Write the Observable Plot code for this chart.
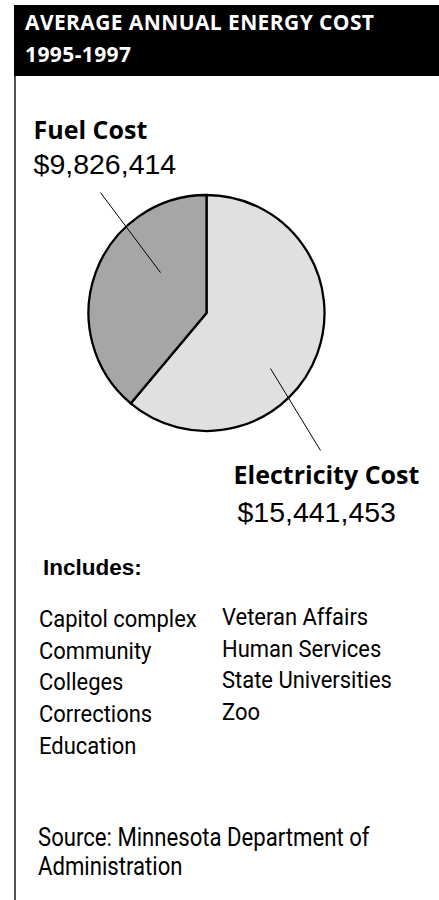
<!DOCTYPE html>
<html>
<head>
<meta charset="utf-8">
<script src="https://cdn.jsdelivr.net/npm/d3@7"></script>
<script src="https://cdn.jsdelivr.net/npm/@observablehq/plot@0.6"></script>
<style>
  html, body { margin: 0; padding: 0; background: #fff; }
  body { width: 439px; height: 900px; position: relative; overflow: hidden; }
  #header { position: absolute; left: 14px; top: 5px; width: 425px; height: 71px; background: #000; }
  #title { position: absolute; left: 11px; top: 1px; font-family: "Open Sans", sans-serif; font-weight: 700; font-size: 21px; line-height: 32px; color: #fff; letter-spacing: 0.4px; white-space: nowrap; }
  #rule { position: absolute; left: 14px; top: 76px; width: 2px; height: 824px; background: #555; }
  #chart { position: absolute; left: 0; top: 76px; }
  .cond { position: absolute; font-family: Roboto, sans-serif; font-size: 24px; line-height: 31.7px; color: #000; transform: scaleX(0.915); transform-origin: 0 0; white-space: nowrap; }
  #includes { position: absolute; left: 43px; top: 557px; font-family: "Liberation Sans", Arial, sans-serif; font-weight: 700; font-size: 22.5px; line-height: 22px; }
</style>
</head>
<body>
<div id="header"><div id="title"></div></div>
<div id="rule"></div>
<div id="chart"></div>
<div id="includes"></div>
<div id="listA" class="cond" style="left:39px; top:604px;"></div>
<div id="listB" class="cond" style="left:222px; top:602px;"></div>
<div id="source" class="cond" style="left:38px; top:823px; line-height:29px; font-size:25px; transform: scaleX(0.885);"></div>
<script>
// ---- data ----
const titleLines = ["AVERAGE ANNUAL ENERGY COST", "1995-1997"];
const categories = ["Fuel Cost", "Electricity Cost"];
const costs = [9826414, 15441453];
const costLabels = ["$9,826,414", "$15,441,453"];
const sliceColors = ["#a6a6a6", "#e0e0e0"];
const includesLabel = "Includes:";
const agenciesLeft = ["Capitol complex", "Community", "Colleges", "Corrections", "Education"];
const agenciesRight = ["Veteran Affairs", "Human Services", "State Universities", "Zoo"];
const sourceLines = ["Source: Minnesota Department of", "Administration"];

// ---- text blocks ----
document.getElementById("title").innerHTML = titleLines.join("<br>");
document.getElementById("includes").textContent = includesLabel;
document.getElementById("listA").innerHTML = agenciesLeft.join("<br>");
document.getElementById("listB").innerHTML = agenciesRight.join("<br>");
document.getElementById("source").innerHTML = sourceLines.join("<br>");

// ---- layout (pie radius units) ----
const W = 439, H = 470, R = 118, CX = 206.5, CY = 237;
const xDomain = [-CX / R, (W - CX) / R];
const yDomain = [-CY / R, (H - CY) / R];

const slices = categories.map((c, i) => ({category: c, value: costs[i], label: costLabels[i], color: sliceColors[i]}));
// drawn clockwise from 12 o'clock: electricity first, fuel closes the circle
const pieOrder = [1, 0].map(i => slices[i]);

const labelPos = {
  "Fuel Cost": {x: -1.47, yName: -1.483, yValue: -1.186},
  "Electricity Cost": {x: 0.225, xValue: 0.258, yName: 1.441, yValue: 1.763}
};
const leaders = [
  {category: "Fuel Cost", x1: -0.394, y1: -0.347, x2: -0.903, y2: -1.025},
  {category: "Electricity Cost", x1: 0.538, y1: 0.466, x2: 0.962, y2: 1.161}
];

const names = slices.map(s => ({text: s.category, x: labelPos[s.category].x, y: labelPos[s.category].yName}));
const amounts = slices.map(s => ({text: s.label, x: labelPos[s.category].xValue ?? labelPos[s.category].x, y: labelPos[s.category].yValue}));

function pieMark(index, scales) {
  const cx = scales.x(0), cy = scales.y(0);
  const r = scales.x(1) - scales.x(0);
  const arcs = d3.pie().sort(null).value(d => d.value)(pieOrder);
  const arc = d3.arc().innerRadius(0).outerRadius(r);
  const g = d3.create("svg:g").attr("transform", `translate(${cx},${cy})`);
  g.selectAll("path").data(arcs).join("path")
    .attr("d", arc)
    .attr("fill", d => d.data.color)
    .attr("stroke", "#000")
    .attr("stroke-width", 2.3)
    .attr("stroke-linejoin", "round");
  return g.node();
}

const plot = Plot.plot({
  width: W,
  height: H,
  margin: 0,
  x: {domain: xDomain, range: [0, W], axis: null},
  y: {domain: yDomain, range: [0, H], axis: null},
  style: {background: "transparent", overflow: "visible"},
  marks: [
    pieMark,
    Plot.link(leaders, {x1: "x1", y1: "y1", x2: "x2", y2: "y2", stroke: "#000", strokeWidth: 1}),
    Plot.text(names, {x: "x", y: "y", text: "text", textAnchor: "start", lineAnchor: "bottom", fontFamily: "Open Sans", fontWeight: 700, fontSize: 25, fill: "#000"}),
    Plot.text(amounts, {x: "x", y: "y", text: "text", textAnchor: "start", lineAnchor: "bottom", fontFamily: "Liberation Sans, Arial", fontSize: 28.5, fill: "#000"})
  ]
});
document.getElementById("chart").appendChild(plot);
</script>
</body>
</html>
